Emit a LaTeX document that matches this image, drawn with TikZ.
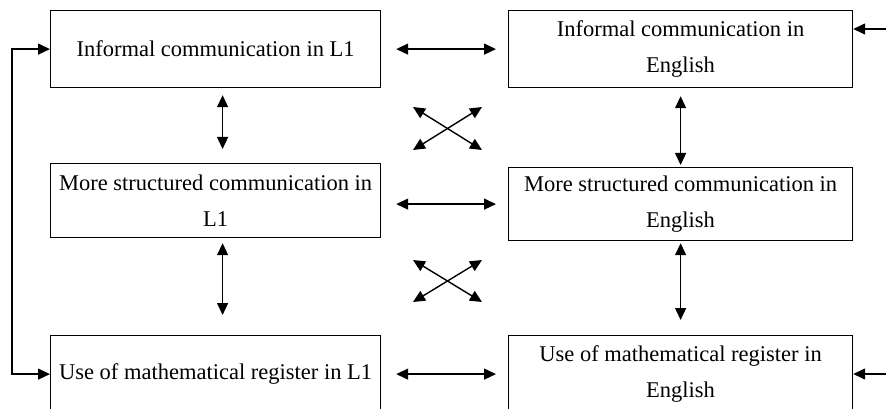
\documentclass[tikz,border=0pt]{standalone}
\usepackage{fontspec}
\setmainfont{Liberation Serif}
\usetikzlibrary{arrows.meta,positioning,calc}
\tikzset{
    stage/.style={draw, line width=1.2pt, align=center, inner sep=0pt, anchor=north west,
        font=\fontsize{22.5}{36}\selectfont},
    link/.style={{Triangle[length=12pt, width=11pt]}-{Triangle[length=12pt, width=11pt]}, line width=1.4pt},
    feed/.style={-{Triangle[length=12pt, width=11pt]}, line width=1.4pt}
}

\begin{document}
\begin{tikzpicture}[x=1pt, y=-1pt]
    \clip (0,0) rectangle (886,409);

    % Left column: L1
    \node[stage, minimum width=330pt, minimum height=77pt] (l1) at (50,10) {Informal communication in L1};
    \node[stage, minimum width=330pt, minimum height=74pt] (l2) at (50,163) {More structured communication in\\L1};
    \node[stage, minimum width=330pt, minimum height=77pt] (l3) at (50,335) {Use of mathematical register in L1};

    % Right column: English
    \node[stage, minimum width=344pt, minimum height=77pt] (r1) at (508,10) {Informal communication in\\English};
    \node[stage, minimum width=344pt, minimum height=73pt] (r2) at (508,167) {More structured communication in\\English};
    \node[stage, minimum width=344pt, minimum height=77pt] (r3) at (508,335) {Use of mathematical register in\\English};

    % Across the rows
    \draw[link, shorten <=15pt, shorten >=12pt] (l1.east) -- (r1.west);
    \draw[link, shorten <=15pt, shorten >=12pt] (r2.west -| l2.east) -- (r2.west);
    \draw[link, shorten <=15pt, shorten >=12pt] (l3.east) -- (r3.west);

    % Down the columns
    \draw[link, shorten <=7pt, shorten >=14pt] ([xshift=7pt]l1.south) -- ([xshift=7pt]l2.north);
    \draw[link, shorten <=5pt, shorten >=20pt] ([xshift=7pt]l2.south) -- ([xshift=7pt]l3.north);
    \draw[link, shorten <=8pt, shorten >=2pt] (r1.south) -- (r2.north);
    \draw[link, shorten <=2pt, shorten >=15pt] (r2.south) -- (r3.north);

    % Diagonal crosses
    \foreach \cy/\hy/\nm in {128.5/21.5/a, 281/21/b} {
        \coordinate (\nm nw) at (413,\cy-\hy);
        \coordinate (\nm se) at (482,\cy+\hy);
        \coordinate (\nm sw) at (413,\cy+\hy);
        \coordinate (\nm ne) at (482,\cy-\hy);
        \draw[link] (\nm nw) -- (\nm se);
        \draw[link] (\nm sw) -- (\nm ne);
    }

    % Loop on the left
    \coordinate (loop) at (12,0);
    \draw[link] (l1.west) -- (l1.west -| loop) -- (l3.west -| loop) -- (l3.west);

    % Inputs from the right
    \coordinate (ext1) at (895,29);
    \coordinate (ext3) at (895,374);
    \draw[feed] (ext1) -- (ext1 -| r1.east);
    \draw[feed] (ext3) -- (ext3 -| r3.east);
\end{tikzpicture}
\end{document}
